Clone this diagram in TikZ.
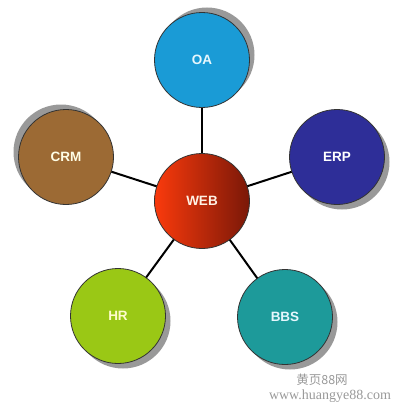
\documentclass[tikz,border=0pt]{standalone}
\usepackage{fontspec}
\usepackage{tikz}
\usetikzlibrary{shadows,backgrounds}

\newfontfamily\etichetta{Liberation Sans}
\newfontfamily\cinese{Noto Sans CJK SC}
\newfontfamily\serifo{Liberation Serif}

\definecolor{colOA}{HTML}{1A9BD6}
\definecolor{colERP}{HTML}{2E2E98}
\definecolor{colCRM}{HTML}{9C6A34}
\definecolor{colHR}{HTML}{9AC815}
\definecolor{colBBS}{HTML}{1D9A9A}
\definecolor{webChiaro}{HTML}{FA3A0C}
\definecolor{webScuro}{HTML}{7A1808}

\tikzset{
  modulo/.style={circle, minimum size=95pt, inner sep=0pt, draw=black!80, line width=0.8pt,
    font=\etichetta\bfseries\fontsize{13.5}{13.5}\selectfont},
  ombra/.style 2 args={drop shadow={shadow xshift=#1, shadow yshift=#2, fill=black, opacity=.4}},
  legame/.style={line width=2pt},
  filigrana/.style={text=black!40, inner sep=0pt}
}

\begin{document}
\begin{tikzpicture}[x=1pt, y=-1pt]
        \useasboundingbox (0,0) rectangle (404,404);

        % Nodo centrale
        \node[modulo, left color=webChiaro, right color=webScuro, text=white!90!orange] (web) at (202,201) {WEB};

        % Moduli attorno
        \node[modulo, fill=colOA, text=cyan!10, ombra={5pt}{5pt}] (oa) at (202,60) {OA};
        \node[modulo, fill=colERP, text=white, ombra={5pt}{-5pt}] (erp) at (337,157) {ERP};
        \node[modulo, fill=colCRM, text=yellow!10, ombra={-5pt}{5pt}] (crm) at (66,157) {CRM};
        \node[modulo, fill=colHR, text=yellow!20, ombra={5pt}{-5pt}] (hr) at (118,316) {HR};
        \node[modulo, fill=colBBS, text=cyan!10, ombra={5pt}{-5pt}] (bbs) at (285,317) {BBS};

        % Collegamenti
        \begin{pgfonlayer}{background}
        \foreach \m in {oa,erp,crm,hr,bbs}
            \draw[legame] (web.center) -- (\m.center);
        \end{pgfonlayer}

        % Filigrana
        \node[filigrana, font=\cinese\fontsize{12.5}{12.5}\selectfont] (marchio) at (322,380) {黄页88网};
        \node[filigrana, font=\serifo\fontsize{14}{14}\selectfont] (sito) at (330,396) {www.huangye88.com};
    \end{tikzpicture}
\end{document}
